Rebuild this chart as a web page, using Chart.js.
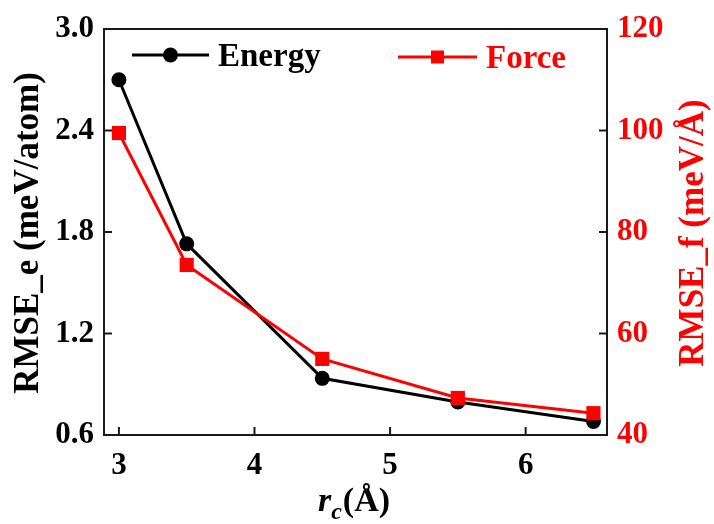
<!DOCTYPE html>
<html><head><meta charset="utf-8">
<script src="https://cdn.jsdelivr.net/npm/chart.js@4"></script>
<style>html,body{margin:0;padding:0;background:#fff}</style>
</head><body>
<canvas id="c" width="714" height="524" style="width:714px;height:524px;display:block"></canvas>
<script>
// ---- data ----
const rc = [3.0, 3.5, 4.5, 5.5, 6.5];
const energyRMSE = [2.70, 1.73, 0.935, 0.795, 0.68];
const forceRMSE = [99.5, 73.5, 55.0, 47.3, 44.3];
const xTicks = [3, 4, 5, 6];
const energyTicks = [0.6, 1.2, 1.8, 2.4, 3.0];
const forceTicks = [40, 60, 80, 100, 120];
const seriesNames = ['Energy', 'Force'];
const leftTitle = 'RMSE_e (meV/atom)';
const rightTitle = 'RMSE_f (meV/\u00C5)';

const FONT = "'Liberation Serif', 'Times New Roman', serif";
const RED = '#ff0000', BLACK = '#000000', AXIS = '#1a1a1a';

const framePlugin = {
  id: 'frame',
  afterDraw(chart) {
    const ctx = chart.ctx, a = chart.chartArea;
    const sx = chart.scales.x, sl = chart.scales.yE, sr = chart.scales.yF;
    ctx.save();
    ctx.strokeStyle = AXIS; ctx.lineWidth = 2;
    // top border
    ctx.beginPath(); ctx.moveTo(a.left - 1, a.top); ctx.lineTo(a.right + 1, a.top); ctx.stroke();
    // inward ticks
    const L = 8;
    ctx.beginPath();
    xTicks.forEach(v => { const p = sx.getPixelForValue(v); ctx.moveTo(p, a.bottom); ctx.lineTo(p, a.bottom - L); });
    energyTicks.forEach(v => { const p = sl.getPixelForValue(v); ctx.moveTo(a.left, p); ctx.lineTo(a.left + L, p); });
    forceTicks.forEach(v => { const p = sr.getPixelForValue(v); ctx.moveTo(a.right, p); ctx.lineTo(a.right - L, p); });
    ctx.stroke();

    // axis titles
    ctx.textAlign = 'center'; ctx.textBaseline = 'middle';
    ctx.font = 'bold 35px ' + FONT;
    const midY = (a.top + a.bottom) / 2;
    ctx.save(); ctx.translate(29, midY + 1); ctx.rotate(-Math.PI / 2);
    ctx.fillStyle = BLACK; ctx.fillText(leftTitle, 0, 0); ctx.restore();
    ctx.save(); ctx.translate(694, midY + 1); ctx.rotate(-Math.PI / 2);
    ctx.fillStyle = RED; ctx.fillText(rightTitle, 0, 0); ctx.restore();

    // x title: r_c(Å)
    const cx = (a.left + a.right) / 2, base = 511;
    ctx.textBaseline = 'alphabetic'; ctx.textAlign = 'left'; ctx.fillStyle = BLACK;
    const f1 = 'italic bold 34px ' + FONT, f2 = 'italic bold 24px ' + FONT, f3 = 'bold 34px ' + FONT;
    ctx.font = f1; const w1 = ctx.measureText('r').width;
    ctx.font = f2; const w2 = ctx.measureText('c').width;
    ctx.font = f3; const w3 = ctx.measureText('(\u00C5)').width;
    let x0 = cx - (w1 + w2 + w3) / 2 - 2;
    ctx.font = f1; ctx.fillText('r', x0, base); x0 += w1;
    ctx.font = f2; ctx.fillText('c', x0, base + 8); x0 += w2;
    ctx.font = f3; ctx.fillText('(\u00C5)', x0 + 1, base);

    // legend
    const ds = chart.data.datasets;
    const items = [{d: ds[0], x1: 132, x2: 209, y: 55, tx: 218}, {d: ds[1], x1: 398, x2: 477, y: 57, tx: 486}];
    items.forEach(it => {
      ctx.strokeStyle = it.d.borderColor; ctx.lineWidth = 3;
      ctx.beginPath(); ctx.moveTo(it.x1, it.y); ctx.lineTo(it.x2, it.y); ctx.stroke();
      const mx = (it.x1 + it.x2) / 2;
      ctx.fillStyle = it.d.backgroundColor;
      if (it.d.pointStyle === 'circle') { ctx.beginPath(); ctx.arc(mx, it.y, 7.5, 0, Math.PI * 2); ctx.fill(); }
      else { ctx.fillRect(mx - 6.5, it.y - 6.5, 13, 13); }
      ctx.font = 'bold 33px ' + FONT; ctx.textBaseline = 'middle';
      ctx.fillStyle = it.d.borderColor;
      ctx.fillText(it.d.label, it.tx, it.y + 2);
    });
    ctx.restore();
  }
};

const tickFont = {family: FONT, size: 31, weight: 'bold'};

new Chart(document.getElementById('c'), {
  type: 'line',
  data: {
    datasets: [
      {label: seriesNames[0], data: rc.map((x, i) => ({x, y: energyRMSE[i]})), yAxisID: 'yE',
       borderColor: BLACK, backgroundColor: BLACK, borderWidth: 3, pointStyle: 'circle',
       pointRadius: 7.5, pointBorderWidth: 0, order: 1, clip: false},
      {label: seriesNames[1], data: rc.map((x, i) => ({x, y: forceRMSE[i]})), yAxisID: 'yF',
       borderColor: RED, backgroundColor: RED, borderWidth: 3, pointStyle: 'rect',
       pointRadius: 10, pointBorderWidth: 0, order: 0, clip: false}
    ]
  },
  options: {
    responsive: false, animation: false, devicePixelRatio: 1,
    layout: {padding: {top: 29, left: 0, right: 0, bottom: 0}},
    plugins: {legend: {display: false}, tooltip: {enabled: false}},
    scales: {
      x: {type: 'linear', min: 2.89, max: 6.6,
          afterBuildTicks: s => { s.ticks = xTicks.map(v => ({value: v})); },
          afterFit: s => { s.height = 89; },
          grid: {display: true, drawOnChartArea: false, drawTicks: false},
          border: {display: true, color: AXIS, width: 2},
          ticks: {font: tickFont, color: BLACK, padding: 12, maxRotation: 0, callback: v => String(v)}},
      yE: {type: 'linear', position: 'left', min: 0.6, max: 3.0,
          afterBuildTicks: s => { s.ticks = energyTicks.map(v => ({value: v})); },
          afterFit: s => { s.width = 104; },
          grid: {display: true, drawOnChartArea: false, drawTicks: false},
          border: {display: true, color: AXIS, width: 2},
          ticks: {font: tickFont, color: BLACK, padding: 10, callback: v => Number(v).toFixed(1)}},
      yF: {type: 'linear', position: 'right', min: 40, max: 120,
          afterBuildTicks: s => { s.ticks = forceTicks.map(v => ({value: v})); },
          afterFit: s => { s.width = 107; },
          grid: {display: true, drawOnChartArea: false, drawTicks: false},
          border: {display: true, color: AXIS, width: 2},
          ticks: {font: tickFont, color: RED, padding: 10, callback: v => String(v)}}
    }
  },
  plugins: [framePlugin]
});
</script>
</body></html>
